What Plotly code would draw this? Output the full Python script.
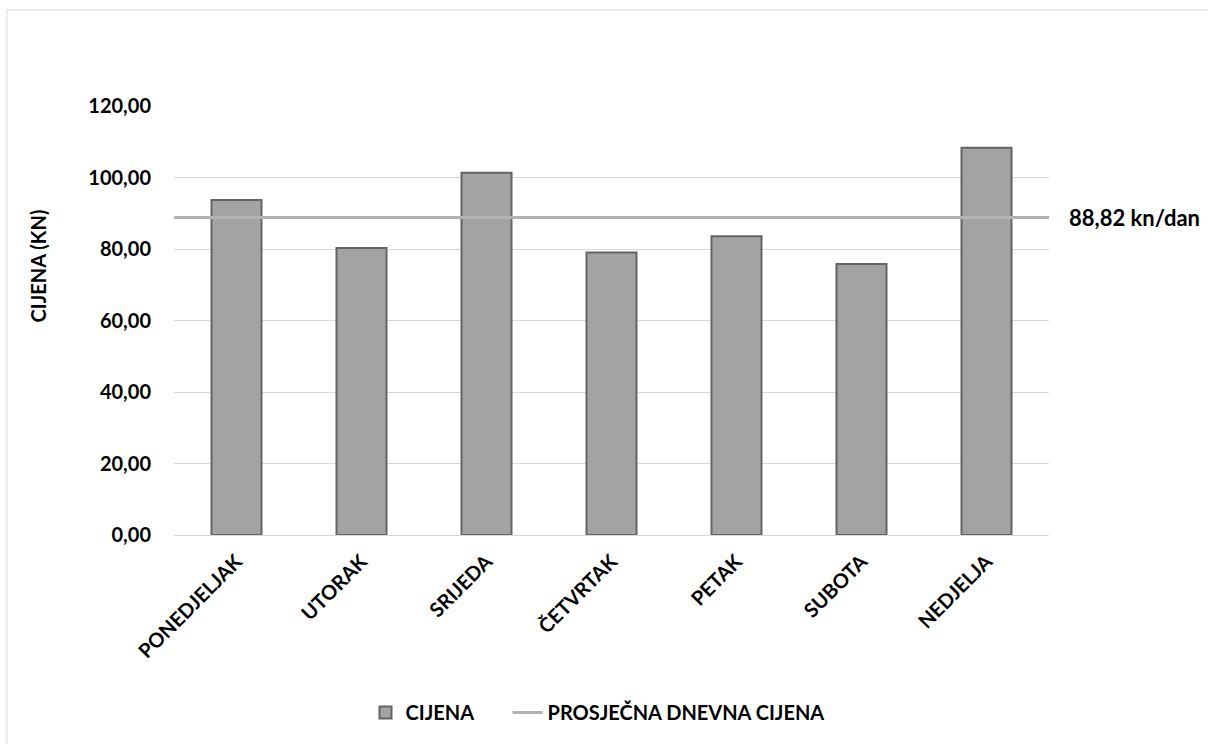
import plotly.graph_objects as go

days = ["PONEDJELJAK", "UTORAK", "SRIJEDA", "ČETVRTAK", "PETAK", "SUBOTA", "NEDJELJA"]
prices = [93.7, 80.3, 101.3, 79.0, 83.6, 75.8, 108.3]
avg_price = 88.82
avg_label = "88,82 kn/dan"
y_ticks = [0, 20, 40, 60, 80, 100, 120]
y_tick_labels = ["0,00", "20,00", "40,00", "60,00", "80,00", "100,00", "120,00"]
series_names = ["CIJENA", "PROSJEČNA DNEVNA CIJENA"]

FONT = "Lato"

fig = go.Figure()
fig.add_trace(go.Bar(
    x=days, y=prices, name=series_names[0] + "\u00a0" * 6,
    marker=dict(color="#a3a3a3", line=dict(color="#646464", width=2)),
    xaxis="x", yaxis="y",
))
fig.add_trace(go.Scatter(
    x=[0, 1], y=[avg_price, avg_price], name=series_names[1],
    mode="lines", line=dict(color="#b3b3b3", width=3),
    xaxis="x2", yaxis="y",
))

fig.update_layout(
    width=1208, height=744,
    margin=dict(l=174, r=159, t=106, b=209),
    paper_bgcolor="white", plot_bgcolor="white",
    font=dict(family=FONT, color="black"),
    bargap=0.6,
    showlegend=True,
    legend=dict(orientation="h", x=0.484, xanchor="center", y=-0.414, yanchor="middle",
                font=dict(size=20, family=FONT, weight="bold"),
                traceorder="normal"),
    xaxis=dict(
        tickangle=-45, tickfont=dict(size=20, family=FONT, weight="bold"),
        showgrid=False, showline=False, ticks="", domain=[0, 1],
        ticklabelstandoff=10,
    ),
    xaxis2=dict(overlaying="x", range=[0, 1], visible=False, domain=[0, 1]),
    yaxis=dict(
        range=[0, 120], tickvals=y_ticks, ticktext=y_tick_labels,
        tickfont=dict(size=20, family=FONT, weight="bold"),
        showgrid=True, gridcolor="#d9d9d9", gridwidth=1,
        zeroline=True, zerolinecolor="#d9d9d9", zerolinewidth=1,
        showline=False, ticks="", ticklabelstandoff=22,
    ),
    annotations=[
        dict(text=avg_label, x=1.02, xref="paper", y=avg_price, yref="y",
             xanchor="left", yanchor="middle", showarrow=False,
             font=dict(size=22, family=FONT, weight="bold")),
        dict(text="CIJENA (KN)", x=-0.155, xref="paper", y=0.627, yref="paper",
             xanchor="center", yanchor="middle", textangle=-90, showarrow=False,
             font=dict(size=20, family=FONT, weight="bold")),
    ],
    shapes=[
        dict(type="rect", xref="paper", yref="paper",
             x0=-0.191, x1=1.3, y0=-0.7, y1=1.224,
             line=dict(color="#d9d9d9", width=1), fillcolor="rgba(0,0,0,0)", layer="below"),
    ],
)

fig.write_html("out.html", config={"displayModeBar": False},
               post_script="document.body.style.margin='0px';")
